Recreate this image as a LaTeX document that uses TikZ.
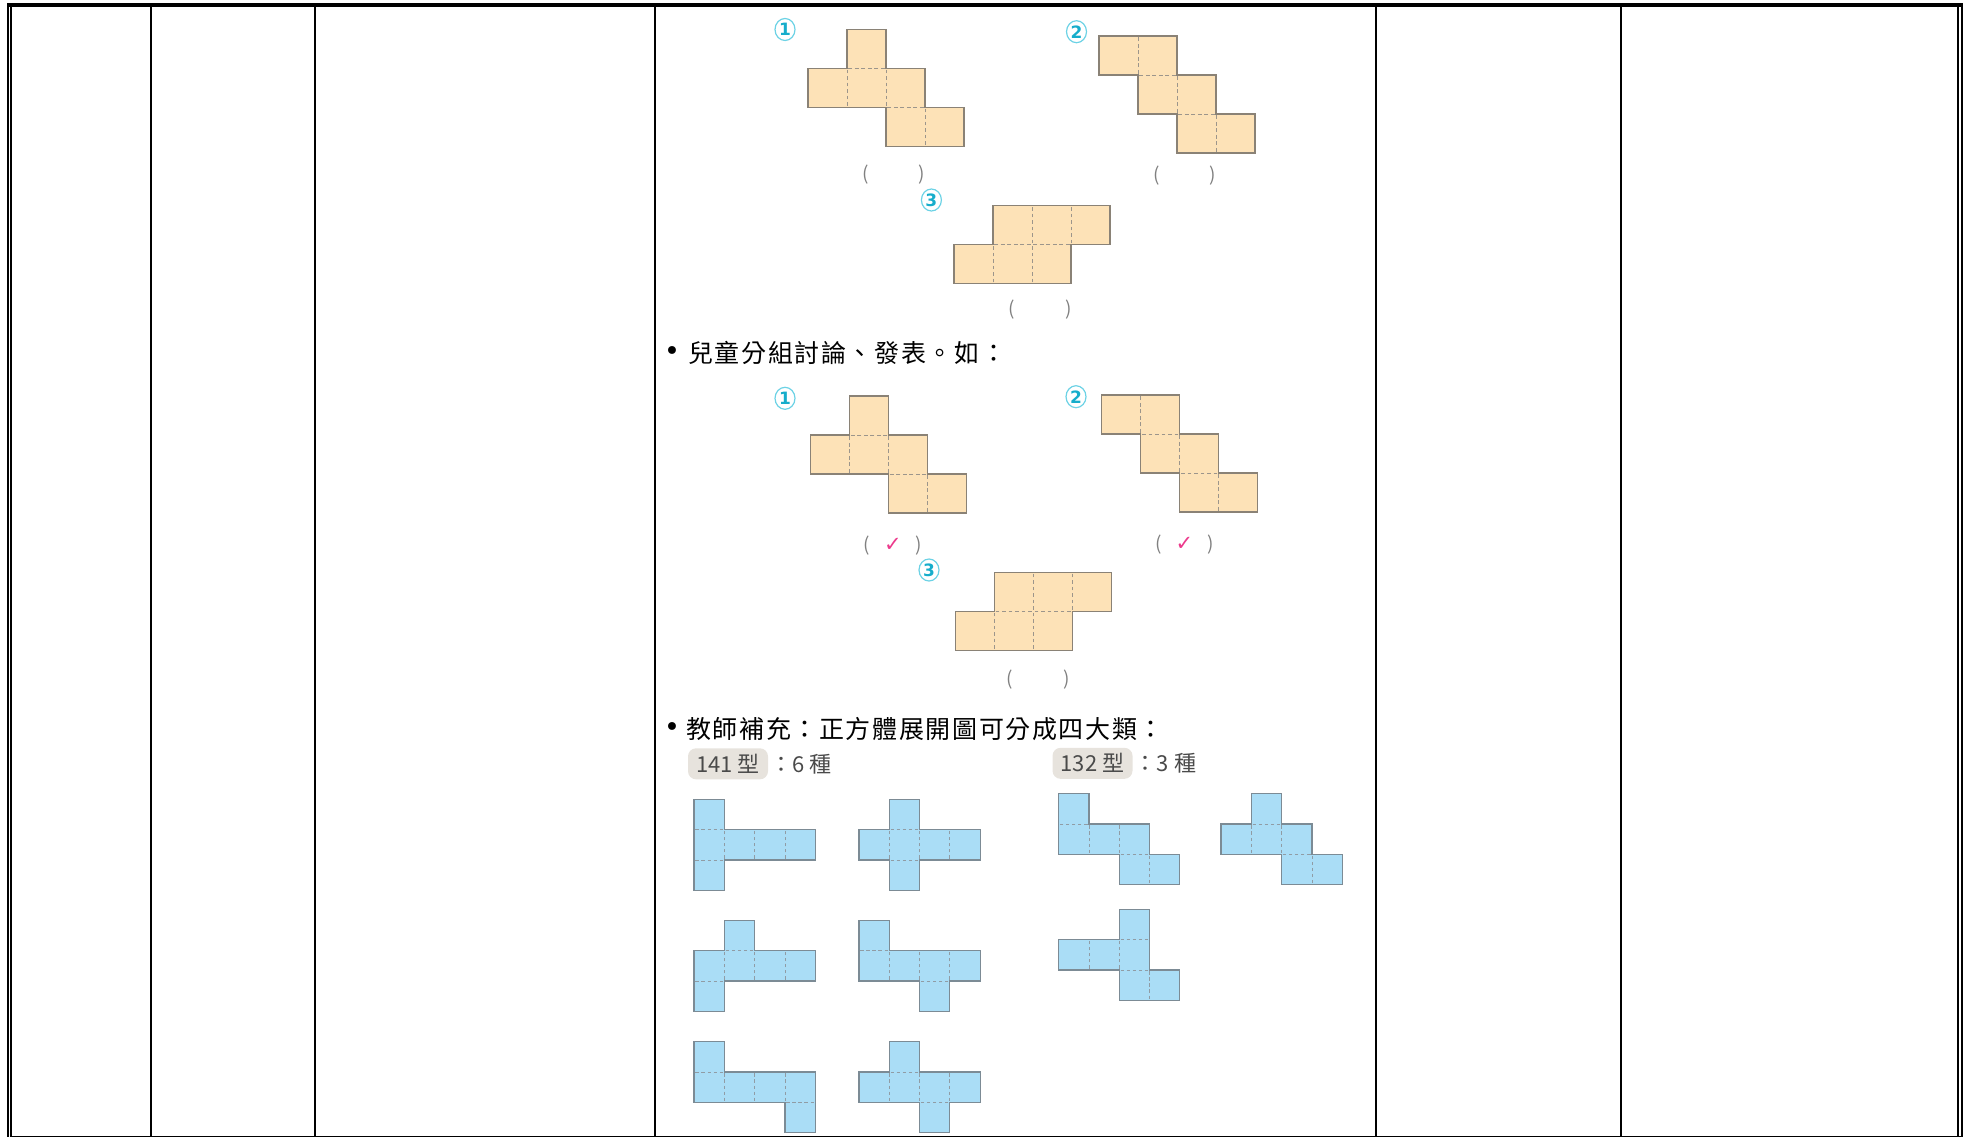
\documentclass[tikz,border=0pt]{standalone}
\usepackage{fontspec}
\setmainfont{Noto Sans CJK TC}
\newfontfamily\symfont{DejaVu Sans}
\newfontfamily\notefont[LetterSpace=6.5]{Noto Sans CJK TC}
\usetikzlibrary{positioning, shapes.geometric}
\definecolor{NetOrange}{HTML}{FDE2B7}
\definecolor{NetOrangeEdge}{HTML}{8A8276}
\definecolor{NetBlue}{HTML}{AADDF6}
\definecolor{NetBlueEdge}{HTML}{7C8B95}
\definecolor{NumCyan}{HTML}{16ADCB}
\definecolor{NumRing}{HTML}{6CD2E5}
\definecolor{TagGray}{HTML}{E7E3DD}
\definecolor{TagText}{HTML}{4A4A4A}
\definecolor{CheckPink}{HTML}{EC3A8C}

\tikzset{
  tablerule/.style={line width=1.7pt},
  orangecell/.style={fill=NetOrange, draw=NetOrangeEdge!85, line width=0.8pt,
    dash pattern=on 3.8pt off 2.7pt, dash phase=5.15pt},
  orangeedge/.style={draw=NetOrangeEdge, line width=1.3pt},
  bluecell/.style={fill=NetBlue, draw=NetBlueEdge!85, line width=0.8pt,
    dash pattern=on 3.3pt off 2.76pt, dash phase=4.68pt},
  blueedge/.style={draw=NetBlueEdge, line width=1.2pt},
  circnum/.style={ellipse, draw=NumRing, line width=1.2pt, text=NumCyan,
    font=\symfont\bfseries\fontsize{17}{17}\selectfont, inner sep=0pt,
    minimum width=20pt, minimum height=22pt},
  paren/.style={text=black!50, font=\fontsize{19}{19}\selectfont, inner sep=0pt},
  bulletdot/.style={font=\symfont\fontsize{27}{27}\selectfont, inner sep=0pt},
  bullettext/.style={anchor=west, font=\notefont\fontsize{25}{25}\selectfont, inner sep=0pt},
  typetag/.style={fill=TagGray, rounded corners=8pt, text=TagText, inner sep=0pt,
    minimum width=80pt, minimum height=31pt, font=\fontsize{22}{22}\selectfont},
  typecount/.style={anchor=west, text=TagText, inner sep=0pt, font=\fontsize{22}{22}\selectfont},
}
\newcommand{\tick}{\textcolor{CheckPink}{\symfont\fontsize{21}{21}\selectfont ✓}}

\begin{document}
\begin{tikzpicture}[x=1pt, y=-1pt]
  \useasboundingbox (0,0) rectangle (1969,1137);

  % 表格框線
  \draw[line width=3.4pt] (7,5) -- (1962.5,5);
  \draw[tablerule] (8.2,3.3) -- (8.2,1137);
  \draw[tablerule] (10.8,3.3) -- (10.8,1137);
  \draw[tablerule] (1957.7,5) -- (1957.7,1137);
  \draw[tablerule] (1961.7,3.3) -- (1961.7,1137);
  \foreach \cx in {151,315,654.7,1375.7,1621}
    \draw[tablerule] (\cx,5) -- (\cx,1137);
  \draw[line width=1.3pt] (10,1136.3) -- (1962,1136.3);

  % 題目：三個展開圖
  \node[circnum] (numA1) at (785,29.5) {1};
  \begin{scope}[shift={(808,29.3)}, x=39pt, y=-39pt]
    \path[orangecell] \foreach \c/\r in {1/0,0/1,1/1,2/1,2/2,3/2} {(\c,\r) rectangle ++(1,1)};
    \draw[orangeedge] (1,0) -- (2,0) -- (2,1) -- (3,1) -- (3,2) -- (4,2) -- (4,3) -- (2,3) -- (2,2) -- (0,2) -- (0,1) -- (1,1) -- cycle;
  \end{scope}
  \node[paren] (ansA1) at (893.5,175) {(\hspace{50pt})};

  \node[circnum] (numA2) at (1076.5,31.7) {2};
  \begin{scope}[shift={(1099,36)}, x=39pt, y=-39pt]
    \path[orangecell] \foreach \c/\r in {0/0,1/0,1/1,2/1,2/2,3/2} {(\c,\r) rectangle ++(1,1)};
    \draw[orangeedge] (0,0) -- (2,0) -- (2,1) -- (3,1) -- (3,2) -- (4,2) -- (4,3) -- (2,3) -- (2,2) -- (1,2) -- (1,1) -- (0,1) -- cycle;
  \end{scope}
  \node[paren] (ansA2) at (1184.8,176) {(\hspace{50pt})};

  \node[circnum] (numA3) at (931.4,200) {3};
  \begin{scope}[shift={(954,205.7)}, x=39pt, y=-39pt]
    \path[orangecell] \foreach \c/\r in {1/0,2/0,3/0,0/1,1/1,2/1} {(\c,\r) rectangle ++(1,1)};
    \draw[orangeedge] (1,0) -- (4,0) -- (4,1) -- (3,1) -- (3,2) -- (0,2) -- (0,1) -- (1,1) -- cycle;
  \end{scope}
  \node[paren] (ansA3) at (1040,310) {(\hspace{50pt})};

  % 兒童分組討論
  \node[bulletdot] (dotB) at (672,353.5) {•};
  \node[bullettext] (talkB) at (688,353) {兒童分組討論、發表。如：};

  \node[circnum] (numB1) at (785,398.3) {1};
  \begin{scope}[shift={(810.6,396)}, x=39pt, y=-39pt]
    \path[orangecell] \foreach \c/\r in {1/0,0/1,1/1,2/1,2/2,3/2} {(\c,\r) rectangle ++(1,1)};
    \draw[orangeedge] (1,0) -- (2,0) -- (2,1) -- (3,1) -- (3,2) -- (4,2) -- (4,3) -- (2,3) -- (2,2) -- (0,2) -- (0,1) -- (1,1) -- cycle;
  \end{scope}
  \node[paren] (ansB1) at (893,546) {(\hspace{14pt}\tick\hspace{14pt})};

  \node[circnum] (numB2) at (1076,396.7) {2};
  \begin{scope}[shift={(1101.7,395)}, x=39pt, y=-39pt]
    \path[orangecell] \foreach \c/\r in {0/0,1/0,1/1,2/1,2/2,3/2} {(\c,\r) rectangle ++(1,1)};
    \draw[orangeedge] (0,0) -- (2,0) -- (2,1) -- (3,1) -- (3,2) -- (4,2) -- (4,3) -- (2,3) -- (2,2) -- (1,2) -- (1,1) -- (0,1) -- cycle;
  \end{scope}
  \node[paren] (ansB2) at (1184.3,545) {(\hspace{14pt}\tick\hspace{14pt})};

  \node[circnum] (numB3) at (929,570) {3};
  \begin{scope}[shift={(955.3,572.3)}, x=39pt, y=-39pt]
    \path[orangecell] \foreach \c/\r in {1/0,2/0,3/0,0/1,1/1,2/1} {(\c,\r) rectangle ++(1,1)};
    \draw[orangeedge] (1,0) -- (4,0) -- (4,1) -- (3,1) -- (3,2) -- (0,2) -- (0,1) -- (1,1) -- cycle;
  \end{scope}
  \node[paren] (ansB3) at (1038,680) {(\hspace{50pt})};

  % 教師補充
  \node[bulletdot] (dotC) at (672,729.5) {•};
  \node[bullettext] (talkC) at (686,729) {教師補充：正方體展開圖可分成四大類：};
  \node[typetag] (tag141) at (728,763.8) {141 型};
  \node[typecount] (cnt141) at ([xshift=2pt]tag141.east) {：6 種};
  \node[typetag] (tag132) at (1092.5,763.3) {132 型};
  \node[typecount] (cnt132) at ([xshift=2pt]tag132.east) {：3 種};

  % 141 型
  \begin{scope}[shift={(694,799.3)}, x=30.3pt, y=-30.3pt]
    \path[bluecell] \foreach \c/\r in {0/0,0/1,1/1,2/1,3/1,0/2} {(\c,\r) rectangle ++(1,1)};
    \draw[blueedge] (0,0) -- (1,0) -- (1,1) -- (4,1) -- (4,2) -- (1,2) -- (1,3) -- (0,3) -- cycle;
  \end{scope}
  \begin{scope}[shift={(858.9,799.3)}, x=30.3pt, y=-30.3pt]
    \path[bluecell] \foreach \c/\r in {1/0,0/1,1/1,2/1,3/1,1/2} {(\c,\r) rectangle ++(1,1)};
    \draw[blueedge] (1,0) -- (2,0) -- (2,1) -- (4,1) -- (4,2) -- (2,2) -- (2,3) -- (1,3) -- (1,2) -- (0,2) -- (0,1) -- (1,1) -- cycle;
  \end{scope}
  \begin{scope}[shift={(694,920.3)}, x=30.3pt, y=-30.3pt]
    \path[bluecell] \foreach \c/\r in {1/0,0/1,1/1,2/1,3/1,0/2} {(\c,\r) rectangle ++(1,1)};
    \draw[blueedge] (1,0) -- (2,0) -- (2,1) -- (4,1) -- (4,2) -- (1,2) -- (1,3) -- (0,3) -- (0,1) -- (1,1) -- cycle;
  \end{scope}
  \begin{scope}[shift={(858.9,920.3)}, x=30.3pt, y=-30.3pt]
    \path[bluecell] \foreach \c/\r in {0/0,0/1,1/1,2/1,3/1,2/2} {(\c,\r) rectangle ++(1,1)};
    \draw[blueedge] (0,0) -- (1,0) -- (1,1) -- (4,1) -- (4,2) -- (3,2) -- (3,3) -- (2,3) -- (2,2) -- (0,2) -- cycle;
  \end{scope}
  \begin{scope}[shift={(694,1041.7)}, x=30.3pt, y=-30.3pt]
    \path[bluecell] \foreach \c/\r in {0/0,0/1,1/1,2/1,3/1,3/2} {(\c,\r) rectangle ++(1,1)};
    \draw[blueedge] (0,0) -- (1,0) -- (1,1) -- (4,1) -- (4,3) -- (3,3) -- (3,2) -- (0,2) -- cycle;
  \end{scope}
  \begin{scope}[shift={(858.9,1041.7)}, x=30.3pt, y=-30.3pt]
    \path[bluecell] \foreach \c/\r in {1/0,0/1,1/1,2/1,3/1,2/2} {(\c,\r) rectangle ++(1,1)};
    \draw[blueedge] (1,0) -- (2,0) -- (2,1) -- (4,1) -- (4,2) -- (3,2) -- (3,3) -- (2,3) -- (2,2) -- (0,2) -- (0,1) -- (1,1) -- cycle;
  \end{scope}

  % 132 型
  \begin{scope}[shift={(1058.6,793.7)}, x=30.3pt, y=-30.3pt]
    \path[bluecell] \foreach \c/\r in {0/0,0/1,1/1,2/1,2/2,3/2} {(\c,\r) rectangle ++(1,1)};
    \draw[blueedge] (0,0) -- (1,0) -- (1,1) -- (3,1) -- (3,2) -- (4,2) -- (4,3) -- (2,3) -- (2,2) -- (0,2) -- cycle;
  \end{scope}
  \begin{scope}[shift={(1221,793.7)}, x=30.3pt, y=-30.3pt]
    \path[bluecell] \foreach \c/\r in {1/0,0/1,1/1,2/1,2/2,3/2} {(\c,\r) rectangle ++(1,1)};
    \draw[blueedge] (1,0) -- (2,0) -- (2,1) -- (3,1) -- (3,2) -- (4,2) -- (4,3) -- (2,3) -- (2,2) -- (0,2) -- (0,1) -- (1,1) -- cycle;
  \end{scope}
  \begin{scope}[shift={(1058.6,909.3)}, x=30.3pt, y=-30.3pt]
    \path[bluecell] \foreach \c/\r in {2/0,0/1,1/1,2/1,2/2,3/2} {(\c,\r) rectangle ++(1,1)};
    \draw[blueedge] (2,0) -- (3,0) -- (3,2) -- (4,2) -- (4,3) -- (2,3) -- (2,2) -- (0,2) -- (0,1) -- (2,1) -- cycle;
  \end{scope}
\end{tikzpicture}
\end{document}
